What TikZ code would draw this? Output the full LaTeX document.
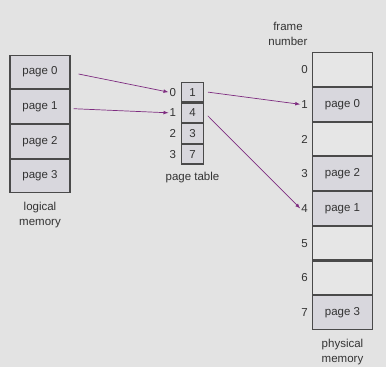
\documentclass[tikz,border=0pt]{standalone}
\usepackage{fontspec}
\setmainfont{Liberation Sans}
\usepackage{tikz}
\usetikzlibrary{positioning}
\usetikzlibrary{arrows}
\definecolor{bggray}{HTML}{E3E3E3}
\definecolor{cellfill}{HTML}{D8D7DD}
\definecolor{emptyfill}{HTML}{E6E6E6}
\definecolor{linegray}{HTML}{4A4A4A}
\definecolor{textgray}{HTML}{333333}
\definecolor{linkpurple}{HTML}{7E2C80}
\tikzset{
  memcell/.style = {draw=linegray, line width=1.1pt, fill=cellfill,
    minimum width=60pt, minimum height=33.6pt, inner sep=0pt,
    text=textgray, font=\fontsize{11.5}{13}\selectfont},% case de memoire
  emptycell/.style = {memcell, fill=emptyfill},% cadre libre
  tabcell/.style = {memcell, minimum width=21.5pt, minimum height=19.6pt},% case de la table
  numlabel/.style = {text=textgray, inner sep=1pt,
    font=\fontsize{11.5}{13}\selectfont},% numero
  caption/.style = {numlabel, align=center, font=\fontsize{11.5}{15}\selectfont},% legende
  link/.style = {draw=linkpurple, line width=0.7pt, -latex}% fleche
}
\begin{document}
\begin{tikzpicture}[x=1pt, y=-1pt]
  \fill[bggray] (0,0) rectangle (386,367);
  \useasboundingbox (0,0) rectangle (386,367);
  % logical memory
  \node [memcell] (lp0) at (40,72) {page 0};
  \node [memcell, below=0pt of lp0] (lp1) {page 1};
  \node [memcell, below=0pt of lp1] (lp2) {page 2};
  \node [memcell, below=0pt of lp2] (lp3) {page 3};
  \node [caption, below=8pt of lp3] (lcap) {logical\\memory};
  % page table
  \node [tabcell] (t0) at (192.5,92.1) {1};
  \node [tabcell, below=0pt of t0] (t1) {4};
  \node [tabcell, below=0pt of t1] (t2) {3};
  \node [tabcell, below=0pt of t2] (t3) {7};
  \node [numlabel, left=4pt of t0] (i0) {0};
  \node [numlabel, left=4pt of t1] (i1) {1};
  \node [numlabel, left=4pt of t2] (i2) {2};
  \node [numlabel, left=4pt of t3] (i3) {3};
  \node [caption, below=6pt of t3] (tcap) {page table};
  % physical memory
  \node [emptycell] (f0) at (342.5,69.6) {};
  \node [memcell, below=0pt of f0] (f1) {page 0};
  \node [emptycell, below=0pt of f1] (f2) {};
  \node [memcell, below=0pt of f2] (f3) {page 2};
  \node [memcell, below=0pt of f3] (f4) {page 1};
  \node [emptycell, below=0pt of f4] (f5) {};
  \node [emptycell, below=0pt of f5] (f6) {};
  \node [memcell, below=0pt of f6] (f7) {page 3};
  \foreach \k in {0,...,7}
    \node [numlabel, left=3pt of f\k] (n\k) {\k};
  \node [caption, above=5pt of f0.north west, xshift=-24pt, anchor=south] (fcap) {frame\\number};
  \node [caption, below=8pt of f7] (pcap) {physical\\memory};
  % arrows
  \draw [link] ([xshift=8pt,yshift=-2pt]lp0.east) -- (i0.west);
  \draw [link] ([xshift=3pt,yshift=-2pt]lp1.east) -- (i1.west);
  \draw [link] ([xshift=4pt]t0.east) -- (n1.west);
  \draw [link] ([xshift=4pt,yshift=-3pt]t1.east) -- (n4.west);
\end{tikzpicture}
\end{document}
